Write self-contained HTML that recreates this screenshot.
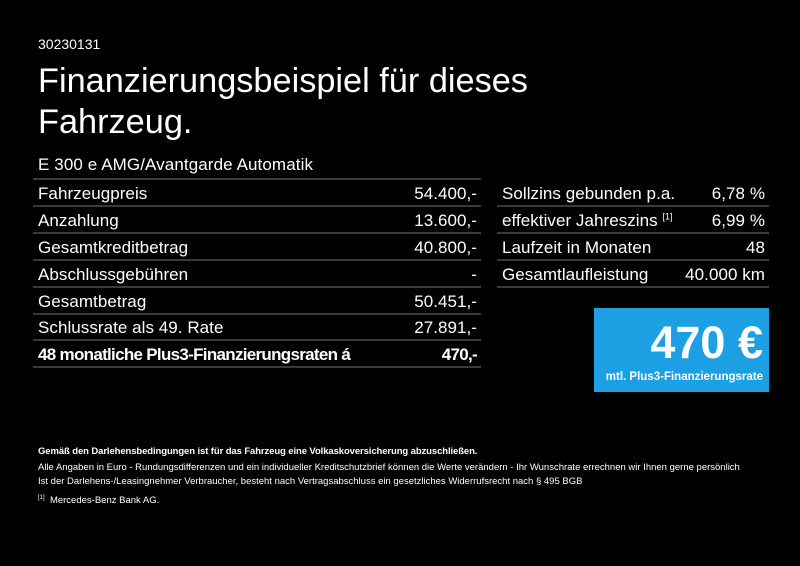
<!DOCTYPE html>
<html><head><meta charset="utf-8"><style>
body{margin:0;width:800px;height:566px;background:#000;color:#fff;font-family:"Liberation Sans",sans-serif;position:relative;overflow:hidden}
.a{position:absolute}
.row{position:absolute;height:27px;border-bottom:2px solid #3a3a3a;font-size:17px;letter-spacing:0.05px;line-height:27px;box-sizing:border-box}
.row span.r{position:absolute;right:4px}
.row span.l{position:absolute;left:5px}
sup{line-height:0}
</style></head><body>
<div class="a" style="left:38px;top:36px;font-size:14px">30230131</div>
<div class="a" style="left:38px;top:61px;font-size:34.3px;line-height:41px">Finanzierungsbeispiel für dieses<br>Fahrzeug.</div>
<div class="a" style="left:38px;top:155px;font-size:17px;letter-spacing:0.1px">E 300 e AMG/Avantgarde Automatik</div>
<div class="a" style="left:33px;top:178px;width:448px;height:2px;background:#3a3a3a"></div>
<div class="row" style="left:33px;top:180px;width:448px"><span class="l">Fahrzeugpreis</span><span class="r">54.400,-</span></div>
<div class="row" style="left:33px;top:207px;width:448px"><span class="l">Anzahlung</span><span class="r">13.600,-</span></div>
<div class="row" style="left:33px;top:234px;width:448px"><span class="l">Gesamtkreditbetrag</span><span class="r">40.800,-</span></div>
<div class="row" style="left:33px;top:261px;width:448px"><span class="l">Abschlussgebühren</span><span class="r">-</span></div>
<div class="row" style="left:33px;top:288px;width:448px"><span class="l">Gesamtbetrag</span><span class="r">50.451,-</span></div>
<div class="row" style="left:33px;top:314px;width:448px"><span class="l">Schlussrate als 49. Rate</span><span class="r">27.891,-</span></div>
<div class="row" style="left:33px;top:341px;width:448px;font-weight:bold;letter-spacing:-0.7px"><span class="l">48 monatliche Plus3-Finanzierungsraten á</span><span class="r">470,-</span></div>
<div class="row" style="left:497px;top:180px;width:272px"><span class="l" style="left:5px">Sollzins gebunden p.a.</span><span class="r">6,78 %</span></div>
<div class="row" style="left:497px;top:207px;width:272px"><span class="l" style="left:5px">effektiver Jahreszins <sup style="font-size:9px">[1]</sup></span><span class="r">6,99 %</span></div>
<div class="row" style="left:497px;top:234px;width:272px"><span class="l" style="left:5px">Laufzeit in Monaten</span><span class="r">48</span></div>
<div class="row" style="left:497px;top:261px;width:272px"><span class="l" style="left:5px">Gesamtlaufleistung</span><span class="r">40.000 km</span></div>
<div class="a" style="left:594px;top:308px;width:175px;height:84px;background:#1ca0e3">
<div class="a" style="right:6px;top:10px;font-size:45px;font-weight:bold;line-height:50px">470 €</div>
<div class="a" style="right:6px;top:63px;font-size:11.5px;font-weight:bold">mtl. Plus3-Finanzierungsrate</div>
</div>
<div class="a" style="left:38px;top:446px;font-size:9.5px;font-weight:bold;letter-spacing:-0.1px">Gemäß den Darlehensbedingungen ist für das Fahrzeug eine Volkaskoversicherung abzuschließen.</div>
<div class="a" style="left:38px;top:462px;font-size:9.5px">Alle Angaben in Euro - Rundungsdifferenzen und ein individueller Kreditschutzbrief können die Werte verändern - Ihr Wunschrate errechnen wir Ihnen gerne persönlich</div>
<div class="a" style="left:38px;top:476px;font-size:9.5px">Ist der Darlehens-/Leasingnehmer Verbraucher, besteht nach Vertragsabschluss ein gesetzliches Widerrufsrecht nach § 495 BGB</div>
<div class="a" style="left:38px;top:495px;font-size:9.5px"><sup style="font-size:6px">[1]</sup>&nbsp; Mercedes-Benz Bank AG.</div>
</body></html>
